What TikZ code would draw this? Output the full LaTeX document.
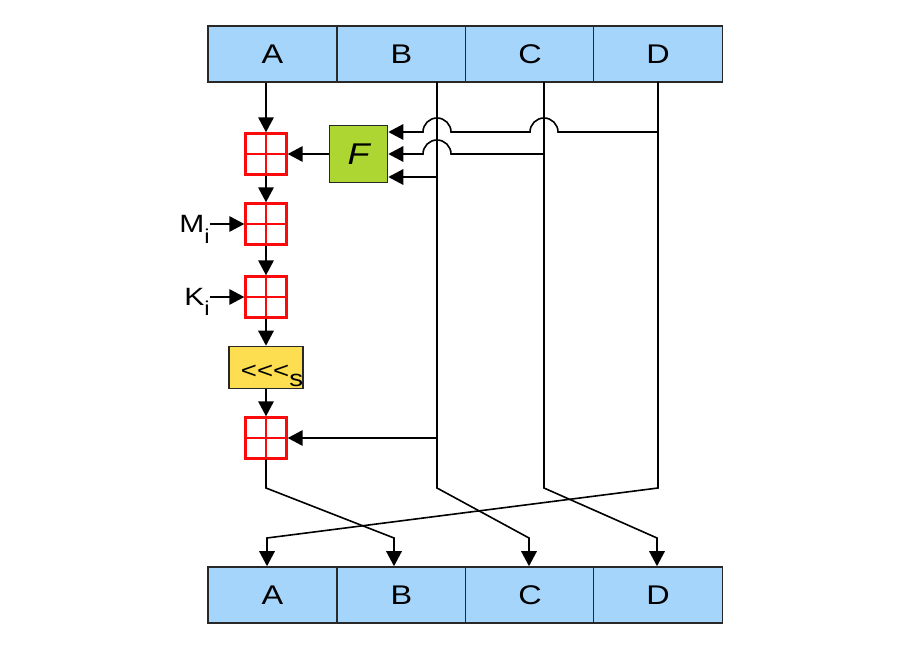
\documentclass[tikz,border=0pt]{standalone}
\usepackage{fontspec}
\setmainfont[FakeStretch=1.2]{Liberation Sans}
\usetikzlibrary{arrows.meta}

\definecolor{regblue}{RGB}{166,213,252}
\definecolor{fgreen}{RGB}{173,214,51}
\definecolor{shiftyellow}{RGB}{252,222,80}
\definecolor{addred}{RGB}{250,10,10}
\definecolor{edge}{RGB}{40,40,40}

\begin{document}
\begin{tikzpicture}[x=1pt,y=1pt,
  wire/.style={line width=1.6pt, black},
  arr/.style={wire, -{Triangle[length=15pt,width=15.5pt]}},
  reg/.style={draw=edge, fill=regblue, line width=1.6pt,
    minimum width=129pt, minimum height=56pt, inner sep=0pt,
    font=\fontsize{27}{27}\selectfont},
  adder/.style={draw=addred, line width=2.4pt, minimum size=41pt, inner sep=0pt,
    path picture={\draw[addred, line width=2.4pt]
      (path picture bounding box.north) -- (path picture bounding box.south)
      (path picture bounding box.west) -- (path picture bounding box.east);}},
  fbox/.style={draw=edge, fill=fgreen, line width=1.6pt,
    minimum width=58pt, minimum height=57pt, inner sep=0pt,
    font=\fontsize{30}{30}\selectfont\itshape},
  shiftbox/.style={draw=edge, fill=shiftyellow, line width=1.6pt,
    minimum width=72pt, minimum height=42pt, inner sep=0pt,
    text height=25pt, text depth=3pt,
    font=\fontsize{23}{23}\selectfont},
  inlabel/.style={inner sep=0pt, font=\fontsize{25}{25}\selectfont}
]
\useasboundingbox (0,0) rectangle (900,-650);

% input registers
\node[reg] (tA) at (272.5,-54) {A};
\node[reg] (tB) at (401.5,-54) {B};
\node[reg] (tC) at (530,-54)   {C};
\node[reg] (tD) at (658,-54)   {D};

% output registers
\node[reg] (bA) at (272.5,-595) {A};
\node[reg] (bB) at (401.5,-595) {B};
\node[reg] (bC) at (530,-595)   {C};
\node[reg] (bD) at (658,-595)   {D};

% modular adders, function F and rotation
\node[adder] (add1) at (266,-154) {};
\node[adder] (add2) at (266,-224) {};
\node[adder] (add3) at (266,-297) {};
\node[adder] (add4) at (266,-438) {};
\node[fbox] (F) at (358.5,-154) {F};
\node[shiftbox] (rot) at (266,-367.5) {\hspace*{12pt}<{}<{}<\raisebox{-7.5pt}{s}};

% message word and constant
\node[inlabel, anchor=base east] (mi) at (210,-233)
  {M\raisebox{-10pt}{\fontsize{20}{20}\selectfont i}};
\node[inlabel, anchor=base east] (ki) at (210,-305)
  {K\raisebox{-10pt}{\fontsize{20}{20}\selectfont i}};

% column wires
\coordinate (colB) at (437,-82);
\coordinate (colC) at (544,-82);
\coordinate (colD) at (658,-82);
\coordinate (bendA) at (266,-488);
\coordinate (bendB) at (437,-488);
\coordinate (bendC) at (544,-488);
\coordinate (bendD) at (658,-488);
\coordinate (kneeA) at (267,-538);
\coordinate (kneeB) at (394,-538);
\coordinate (kneeC) at (529,-538);
\coordinate (kneeD) at (657,-538);

% main chain through A
\draw[arr] (add1.north |- tA.south) -- (add1.north);
\draw[arr] (add1.south) -- (add2.north);
\draw[arr] (add2.south) -- (add3.north);
\draw[arr] (add3.south) -- (rot.north);
\draw[arr] (rot.south) -- (add4.north);
\draw[arr] (F.west) -- (add1.east);
\draw[arr] (mi.east |- add2.west) -- (add2.west);
\draw[arr] (ki.east |- add3.west) -- (add3.west);

% inputs of F, hopping over the wires they cross
\coordinate (fD) at (658,-132);
\coordinate (fC) at (544,-154);
\coordinate (fB) at (437,-177);
\draw[arr] (fD) -- (558,-132) arc (0:180:14) -- (451,-132) arc (0:180:14)
  -- (F.east |- fD);
\draw[arr] (fC) -- (451,-154) arc (0:180:14) -- (F.east |- fC);
\draw[arr] (fB) -- (F.east |- fB);

% B added after the rotation
\draw[arr] (colB |- add4.east) -- (add4.east);

% vertical wires and final permutation
\draw[arr] (add4.south) -- (bendA) -- (kneeB) -- (kneeB |- bB.north);
\draw[arr] (colB) -- (bendB) -- (kneeC) -- (kneeC |- bC.north);
\draw[arr] (colC) -- (bendC) -- (kneeD) -- (kneeD |- bD.north);
\draw[arr] (colD) -- (bendD) -- (kneeA) -- (kneeA |- bA.north);
\end{tikzpicture}
\end{document}
